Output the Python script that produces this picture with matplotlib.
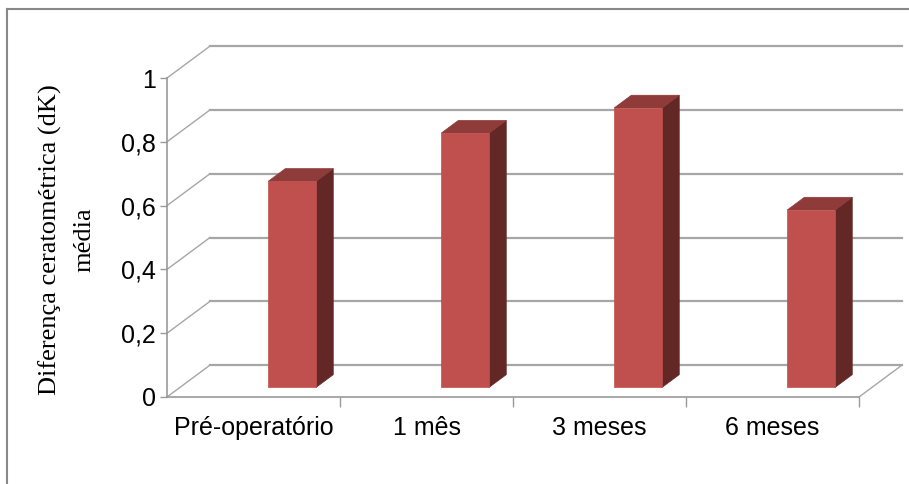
import matplotlib
matplotlib.use("Agg")
import matplotlib.pyplot as plt
from matplotlib.patches import Polygon
from matplotlib.lines import Line2D

categories = ["Pré-operatório", "1 mês", "3 meses", "6 meses"]
values = [0.646, 0.797, 0.876, 0.556]
yticks = [0, 0.2, 0.4, 0.6, 0.8, 1.0]
ytick_labels = ["0", "0,2", "0,4", "0,6", "0,8", "1"]
ylabel_lines = ["Diferença ceratométrica (dK)", "média"]

# pseudo-3D geometry (category / value units)
DX, DY = 0.2486, 0.10          # full depth offset of the back wall
F0, F1 = 0.3, 0.7               # bar front / back depth
BAR_L, BAR_W = 0.51, 0.277      # bar position inside a category
FRONT, TOP, SIDE = "#C0504D", "#8E3B39", "#632826"
GRID = "#A6A6A6"

W, H = 909, 484
fig = plt.figure(figsize=(W / 100, H / 100), dpi=100)
ax = fig.add_axes([167 / W, (H - 397) / H, 692 / W, 319 / H])
ax.set_xlim(0, len(categories))
ax.set_ylim(0, 1)
for s in ax.spines.values():
    s.set_visible(False)

n = len(categories)
# back wall gridlines + left wall diagonals
for v in yticks:
    ax.plot([DX, n + DX], [v + DY, v + DY], color=GRID, lw=1.6, clip_on=False, zorder=1)
    ax.plot([0, DX], [v, v + DY], color=GRID, lw=1.0, clip_on=False, zorder=1)
# floor right edge and front edge
ax.plot([n, n + DX], [0, DY], color=GRID, lw=1.0, clip_on=False, zorder=1)
ax.plot([0, n], [0, 0], color="#999999", lw=1.2, clip_on=False, zorder=1)
ax.plot([0, 0], [0, 1], color="#999999", lw=1.2, clip_on=False, zorder=1)

# bars
for i, v in enumerate(values):
    x0 = i + BAR_L + F0 * DX
    x1 = x0 + BAR_W
    y0 = F0 * DY
    y1 = y0 + v
    dx = (F1 - F0) * DX
    dy = (F1 - F0) * DY
    ax.add_patch(Polygon([(x1, y0), (x1 + dx, y0 + dy), (x1 + dx, y1 + dy), (x1, y1)],
                         closed=True, facecolor=SIDE, edgecolor=SIDE, lw=0.5,
                         clip_on=False, zorder=3))
    ax.add_patch(Polygon([(x0, y1), (x0 + dx, y1 + dy), (x1 + dx, y1 + dy), (x1, y1)],
                         closed=True, facecolor=TOP, edgecolor=TOP, lw=0.5,
                         clip_on=False, zorder=3))
    ax.add_patch(Polygon([(x0, y0), (x1, y0), (x1, y1), (x0, y1)],
                         closed=True, facecolor=FRONT, edgecolor=FRONT, lw=0.5,
                         clip_on=False, zorder=4))

# ticks
ax.set_yticks(yticks)
ax.set_yticklabels(ytick_labels, family="Liberation Sans", fontsize=18)
ax.tick_params(axis="y", length=5, width=1, color="#999999", pad=3)
ax.set_xticks([i + 0.5 for i in range(n)])
ax.set_xticklabels(categories, family="Liberation Sans", fontsize=18)
ax.tick_params(axis="x", length=0, pad=14)
ax.set_xticks(range(1, n + 1), minor=True)
ax.tick_params(axis="x", which="minor", length=7, width=1, color="#999999")

# y label: two centred lines
for x_px, line in zip([50, 84], ylabel_lines):
    fig.text(x_px / W, 1 - 240 / H, line, family="Liberation Serif", fontsize=19,
             rotation=90, ha="center", va="center")

# outer frame (top and left edges)
fig.add_artist(Line2D([7 / W, 1], [1 - 9 / H, 1 - 9 / H], color="#888888", lw=1.5))
fig.add_artist(Line2D([7 / W, 7 / W], [0, 1 - 9 / H], color="#888888", lw=1.5))

fig.savefig("out.png", dpi=100)
